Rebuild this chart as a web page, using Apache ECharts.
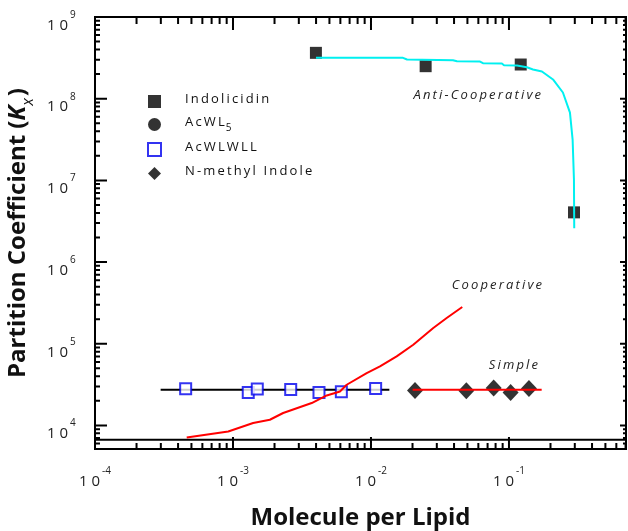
<!DOCTYPE html>
<html><head><meta charset="utf-8">
<script src="https://cdn.jsdelivr.net/npm/echarts@6/dist/echarts.min.js"></script>
<style>html,body{margin:0;padding:0;background:#fff}#c{width:628px;height:531px}</style>
</head><body><div id="c"></div>
<script>
// ---- data ----
const indolicidinX = [0.00399, 0.0249, 0.1217, 0.296];
const indolicidinY = [3.64e8, 2.50e8, 2.62e8, 4.06e6];
const antiCoopX = [0.003993, 0.01706, 0.01824, 0.0393, 0.0420, 0.0617, 0.0648, 0.0889, 0.0920, 0.1143, 0.1349, 0.1493, 0.1734, 0.2085, 0.2460, 0.2767, 0.2893, 0.2958, 0.2972];
const antiCoopY = [3.16e8, 3.16e8, 3.02e8, 2.96e8, 2.88e8, 2.85e8, 2.72e8, 2.69e8, 2.57e8, 2.55e8, 2.43e8, 2.28e8, 2.15e8, 1.72e8, 1.19e8, 6.76e7, 3.16e7, 1.02e7, 2.59e6];
const acwl5X = [];
const acwl5Y = [];
const acwlwllX = [4.54e-4, 1.29e-3, 1.50e-3, 2.62e-3, 4.20e-3, 6.10e-3, 0.01081];
const acwlwllY = [2.815e4, 2.54e4, 2.79e4, 2.76e4, 2.54e4, 2.59e4, 2.84e4];
const acwlwllFitX = [2.99e-4, 0.01359];
const acwlwllFitY = [2.74e4, 2.74e4];
const nmiX = [0.02085, 0.0491, 0.0775, 0.1028, 0.1396];
const nmiY = [2.68e4, 2.66e4, 2.87e4, 2.54e4, 2.84e4];
const simpleFitX = [0.02004, 0.1726];
const simpleFitY = [2.74e4, 2.74e4];
const coopX = [4.62e-4, 9.24e-4, 1.40e-3, 1.85e-3, 2.31e-3, 3.72e-3, 4.78e-3, 5.96e-3, 6.67e-3, 9.31e-3, 0.01162, 0.01535, 0.02025, 0.02828, 0.03537, 0.04588];
const coopY = [7.13e3, 8.44e3, 1.07e4, 1.175e4, 1.42e4, 1.88e4, 2.33e4, 2.61e4, 3.15e4, 4.38e4, 5.28e4, 7.00e4, 9.74e4, 1.56e5, 2.07e5, 2.82e5];
const baseX = [1e-4, 0.705];
const baseY = [6680, 6680];
const xRange = [1e-4, 0.705];
const yRange = [5150, 1e9];
const xTickExps = [-4, -3, -2, -1];
const yTickExps = [4, 5, 6, 7, 8, 9];
const legendNames = ['Indolicidin', 'AcWL5', 'AcWLWLL', 'N-methyl Indole'];

// ---- layout ----
const W = 628, H = 531;
const G = { left: 95, right: 2, top: 17, bottom: 82 };

// ---- helpers ----
const zip = (a, b) => a.map((v, i) => [v, b[i]]);
const sp = s => s.split('').join('\u2009');
const FONT = "'Open Sans', 'DejaVu Sans', sans-serif";

function powLabel(exps) {
  return function (v) {
    const l = Math.log10(v);
    const e = Math.round(l);
    if (Math.abs(l - e) > 1e-6 || exps.indexOf(e) < 0) return '';
    return '{b|1 0}{s|' + e + '}';
  };
}
const labelRich = {
  b: { fontSize: 15, fontFamily: FONT, color: '#222', verticalAlign: 'bottom', lineHeight: 18 },
  s: { fontSize: 10, fontFamily: FONT, color: '#222', verticalAlign: 'bottom', lineHeight: 12, padding: [0, 0, 13, 2] }
};

// tick marks (axis decoration) drawn as broken line series in data space; lengths in pixels
const pxPerDecX = (W - G.left - G.right) / Math.log10(xRange[1] / xRange[0]);
const pxPerDecY = (H - G.top - G.bottom) / Math.log10(yRange[1] / yRange[0]);
const fX = px => Math.pow(10, px / pxPerDecX);
const fY = px => Math.pow(10, px / pxPerDecY);
const tickData = [];
function seg(a, b) { tickData.push(a, b, [null, null]); }
for (let e = -4; e <= 0; e++) for (let m = 1; m <= 9; m++) {
  const v = m * Math.pow(10, e);
  if (v <= xRange[0] * 1.001 || v > xRange[1]) continue;
  const major = m === 1;
  seg([v, yRange[0]], [v, yRange[0] * fY(major ? 12 : 6)]);
  seg([v, yRange[1]], [v, yRange[1] / fY(major ? 13 : 7)]);
}
for (let e = 3; e <= 9; e++) for (let m = 1; m <= 9; m++) {
  const v = m * Math.pow(10, e);
  if (v < yRange[0] || v >= yRange[1] * 0.999) continue;
  const major = m === 1;
  seg([xRange[0], v], [xRange[0] * fX(major ? 12 : 5), v]);
  seg([xRange[1], v], [xRange[1] / fX(major ? 6 : 3), v]);
}

const annoFont = "italic 13px 'Open Sans', sans-serif";
const annotations = [
  { type: 'text', right: W - 541, top: 89, style: { text: sp('Anti-Cooperative'), font: annoFont, fill: '#222' } },
  { type: 'text', right: W - 542, top: 279, style: { text: sp('Cooperative'), font: annoFont, fill: '#222' } },
  { type: 'text', right: W - 538, top: 359, style: { text: sp('Simple'), font: annoFont, fill: '#222' } }
];

const chart = echarts.init(document.getElementById('c'), null, { renderer: 'canvas' });
chart.setOption({
  animation: false,
  backgroundColor: '#fff',
  grid: { left: G.left, right: G.right, top: G.top, bottom: G.bottom, show: true, borderColor: '#000', borderWidth: 2, outerBoundsMode: 'none' },
  xAxis: {
    type: 'log', logBase: 10, min: xRange[0], max: xRange[1],
    axisLine: { show: false }, axisTick: { show: false }, splitLine: { show: false }, minorTick: { show: false },
    axisLabel: { formatter: powLabel(xTickExps), rich: labelRich, margin: 22, showMinLabel: true, showMaxLabel: false, hideOverlap: false },
    name: 'Molecule per Lipid', nameLocation: 'middle', nameGap: 57,
    nameTextStyle: { fontSize: 24, fontWeight: 'bold', fontFamily: FONT, color: '#111' }
  },
  yAxis: {
    type: 'log', logBase: 10, min: yRange[0], max: yRange[1],
    axisLine: { show: false }, axisTick: { show: false }, splitLine: { show: false }, minorTick: { show: false },
    axisLabel: { formatter: powLabel(yTickExps), rich: labelRich, margin: 48, align: 'left', padding: [14, 0, 0, 0], showMinLabel: false, showMaxLabel: true, hideOverlap: false },
    name: '{a|Partition Coefficient (}{k|K}{x|x}{a|)}', nameLocation: 'middle', nameGap: 54,
    nameTextStyle: {
      rich: {
        a: { fontSize: 24, fontWeight: 'bold', fontFamily: FONT, color: '#111', verticalAlign: 'top', lineHeight: 30 },
        k: { fontSize: 24, fontWeight: 'bold', fontStyle: 'italic', fontFamily: FONT, color: '#111', verticalAlign: 'top', lineHeight: 30 },
        x: { fontSize: 16, fontStyle: 'italic', fontFamily: FONT, color: '#111', verticalAlign: 'top', lineHeight: 20, padding: [14, 2, 0, 0] }
      }
    }
  },
  legend: {
    data: legendNames, orient: 'vertical', left: 142, top: 88,
    itemWidth: 13, itemHeight: 13, itemGap: 8,
    formatter: function (name) {
      if (name === 'AcWL5') return '{t|' + sp('AcWL') + '}{s|5}';
      return '{t|' + sp(name) + '}';
    },
    textStyle: {
      rich: {
        t: { fontSize: 13, fontFamily: FONT, color: '#111', padding: [0, 0, 0, 19], verticalAlign: 'top', lineHeight: 17 },
        s: { fontSize: 10, fontFamily: FONT, color: '#111', padding: [7, 0, 0, 1], verticalAlign: 'top', lineHeight: 12 }
      }
    }
  },
  graphic: annotations,
  series: [
    { name: 'axis ticks', type: 'line', data: tickData, symbol: 'none', showSymbol: false, connectNulls: false,
      lineStyle: { color: '#000', width: 2 }, z: 4, silent: true, clip: false },
    { name: 'base', type: 'line', data: zip(baseX, baseY), symbol: 'none', lineStyle: { color: '#000', width: 2 }, z: 1, silent: true, clip: false },
    { name: 'AcWLWLL fit', type: 'line', data: zip(acwlwllFitX, acwlwllFitY), symbol: 'none', lineStyle: { color: '#000', width: 2 }, z: 1, silent: true },
    { name: 'AcWLWLL', type: 'scatter', data: zip(acwlwllX, acwlwllY), symbol: 'rect', symbolSize: 11,
      itemStyle: { color: '#fff', borderColor: '#0000ee', borderWidth: 2 }, z: 2 },
    { name: 'Indolicidin', type: 'scatter', data: zip(indolicidinX, indolicidinY), symbol: 'rect', symbolSize: 12, itemStyle: { color: '#000' }, z: 2 },
    { name: 'AcWL5', type: 'scatter', data: zip(acwl5X, acwl5Y), symbol: 'circle', symbolSize: 12, itemStyle: { color: '#000' }, z: 2 },
    { name: 'N-methyl Indole', type: 'scatter', data: zip(nmiX, nmiY), symbol: 'diamond', symbolSize: [16, 17], itemStyle: { color: '#000' }, z: 2 },
    { name: 'Anti-Cooperative fit', type: 'line', data: zip(antiCoopX, antiCoopY), symbol: 'none', lineStyle: { color: '#00f0f0', width: 2 }, z: 3, silent: true },
    { name: 'Simple fit', type: 'line', data: zip(simpleFitX, simpleFitY), symbol: 'none', lineStyle: { color: '#ff0000', width: 2 }, z: 3, silent: true },
    { name: 'Cooperative fit', type: 'line', data: zip(coopX, coopY), symbol: 'none', lineStyle: { color: '#ff0000', width: 2 }, z: 3, silent: true }
  ]
});
</script>
</body></html>
